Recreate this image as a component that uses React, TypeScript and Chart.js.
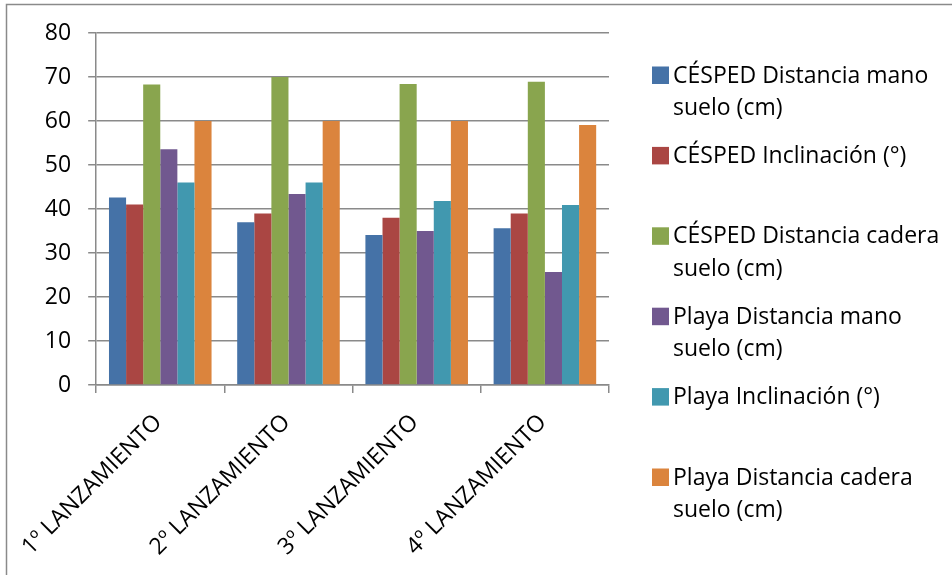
import React, { useEffect, useRef } from "react";
import { Chart, registerables } from "chart.js";

Chart.register(...registerables);

const categories = ["1º LANZAMIENTO", "2º LANZAMIENTO", "3º LANZAMIENTO", "4º LANZAMIENTO"];

const seriesNames = [
  "CÉSPED Distancia mano suelo (cm)",
  "CÉSPED Inclinación (°)",
  "CÉSPED Distancia cadera suelo (cm)",
  "Playa Distancia mano suelo (cm)",
  "Playa Inclinación (°)",
  "Playa Distancia cadera suelo (cm)",
];

const cespedManoSuelo = [42.6, 37.0, 34.1, 35.6];
const cespedInclinacion = [41.0, 39.0, 38.0, 39.0];
const cespedCaderaSuelo = [68.3, 70.0, 68.4, 68.9];
const playaManoSuelo = [53.6, 43.4, 35.0, 25.7];
const playaInclinacion = [46.0, 46.0, 41.8, 40.9];
const playaCaderaSuelo = [60.0, 60.0, 60.0, 59.1];

const seriesValues = [
  cespedManoSuelo,
  cespedInclinacion,
  cespedCaderaSuelo,
  playaManoSuelo,
  playaInclinacion,
  playaCaderaSuelo,
];

const seriesColors = ["#4572A7", "#AA4643", "#89A54E", "#71588F", "#4198AF", "#DB843D"];

const yMin = 0;
const yMax = 80;
const yStep = 10;

const FONT = '"Open Sans", "DejaVu Sans", sans-serif';
const GRID = "#8a8a8a";

function wrapText(ctx: CanvasRenderingContext2D, text: string, maxW: number): string[] {
  const words = text.split(" ");
  const lines: string[] = [];
  let cur = "";
  for (const w of words) {
    const test = cur ? cur + " " + w : w;
    if (ctx.measureText(test).width > maxW && cur) {
      lines.push(cur);
      cur = w;
    } else {
      cur = test;
    }
  }
  if (cur) lines.push(cur);
  return lines;
}

const framePlugin = {
  id: "frameAndLegend",
  afterDraw(chart: any) {
    const ctx: CanvasRenderingContext2D = chart.ctx;
    ctx.save();
    // outer frame
    ctx.strokeStyle = GRID;
    ctx.lineWidth = 1.5;
    ctx.strokeRect(6.5, 4.5, 3000, 3000);

    // legend
    ctx.font = `23px ${FONT}`;
    ctx.textBaseline = "alphabetic";
    ctx.textAlign = "left";
    const boxX = 652;
    const textX = 673;
    const maxW = chart.width - textX - 6;
    const firstBase = 82.5;
    const step = 80.4;
    const lineStep = 32.5;
    chart.data.datasets.forEach((ds: any, i: number) => {
      const base = firstBase + i * step;
      ctx.fillStyle = ds.backgroundColor;
      ctx.fillRect(boxX, base - 16, 17, 17.5);
      ctx.fillStyle = "#000";
      wrapText(ctx, ds.label, maxW).forEach((line, j) => {
        ctx.fillText(line, textX, base + j * lineStep);
      });
    });
    ctx.restore();
  },
};

export default function App() {
  const ref = useRef<HTMLCanvasElement | null>(null);

  useEffect(() => {
    if (!ref.current) return;
    const chart = new Chart(ref.current, {
      type: "bar",
      data: {
        labels: categories,
        datasets: seriesValues.map((vals, i) => ({
          label: seriesNames[i],
          data: vals,
          backgroundColor: seriesColors[i],
          borderWidth: 0,
          categoryPercentage: 0.8,
          barPercentage: 1.0,
        })),
      },
      options: {
        responsive: false,
        animation: false,
        devicePixelRatio: 1,
        layout: { padding: { left: 0, top: 33, right: 343, bottom: 0 } },
        plugins: {
          legend: { display: false },
          tooltip: { enabled: false },
          title: { display: false },
        },
        scales: {
          x: {
            grid: {
              offset: true,
              drawOnChartArea: false,
              drawTicks: true,
              tickLength: 8,
              color: GRID,
              lineWidth: 1.5,
            },
            border: { display: true, color: GRID, width: 1.5 },
            ticks: {
              autoSkip: false,
              maxRotation: 45,
              minRotation: 45,
              padding: 16,
              labelOffset: -2,
              color: "#000",
              font: { family: FONT, size: 23 },
            },
            afterFit(scale: any) {
              scale.height = 190;
            },
          },
          y: {
            min: yMin,
            max: yMax,
            grid: {
              drawTicks: true,
              tickLength: 8,
              color: GRID,
              lineWidth: 1.5,
            },
            border: { display: true, color: GRID, width: 1.5 },
            ticks: {
              stepSize: yStep,
              padding: 17,
              color: "#000",
              font: { family: FONT, size: 23 },
            },
            afterFit(scale: any) {
              scale.width = 96;
            },
          },
        },
      },
      plugins: [framePlugin],
    });
    return () => chart.destroy();
  }, []);

  return (
    <div style={{ position: "fixed", left: 0, top: 0, width: 952, height: 575, background: "#fff" }}>
      <canvas ref={ref} width={952} height={575} style={{ width: 952, height: 575, display: "block" }} />
    </div>
  );
}
